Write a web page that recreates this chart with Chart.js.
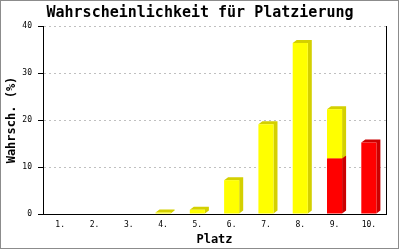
<!DOCTYPE html>
<html lang="de">
    <head>
        <meta charset="UTF-8">
        <title>Wahrscheinlichkeit für Platzierung</title>
        <script src="https://cdn.jsdelivr.net/npm/chart.js"></script>
        <style>
            html, body { margin: 0; padding: 0; background: #fff; }
            .chart-container { position: relative; width: 400px; height: 250px; }
        </style>
    </head>
    <body>
        <div class="chart-container">
            <canvas id="chart"></canvas>
        </div>
        <script>
            // data
            const places = ['1.', '2.', '3.', '4.', '5.', '6.', '7.', '8.', '9.', '10.'];
            const redValues = [0, 0, 0, 0, 0, 0, 0, 0, 11.8, 15.2];
            const yellowValues = [0, 0, 0, 0.3, 0.9, 7.2, 19.1, 36.4, 10.5, 0];
            const yTicks = [0, 10, 20, 30, 40];

            const monoFont = "'DejaVu Sans Mono', 'Liberation Mono', monospace";
            const DX = 4, DY = 3; // depth of the 3d side

            // darker side + top of each bar, drawn behind the front faces
            const depthPlugin = {
                id: 'depth',
                beforeDatasetsDraw(chart) {
                    const ctx = chart.ctx;
                    chart.data.datasets.forEach((ds, di) => {
                        const meta = chart.getDatasetMeta(di);
                        meta.data.forEach((bar, i) => {
                            if (!ds.data[i]) return;
                            const left = bar.x - bar.width / 2;
                            const right = bar.x + bar.width / 2;
                            const top = Math.min(bar.y, bar.base);
                            const bottom = Math.max(bar.y, bar.base);
                            ctx.save();
                            ctx.fillStyle = ds.sideColor;
                            ctx.beginPath();
                            ctx.moveTo(right, bottom);
                            ctx.lineTo(right + DX, bottom - DY);
                            ctx.lineTo(right + DX, top - DY);
                            ctx.lineTo(left + DX, top - DY);
                            ctx.lineTo(left, top);
                            ctx.lineTo(right, top);
                            ctx.closePath();
                            ctx.fill();
                            ctx.restore();
                        });
                    });
                }
            };

            // grey frame round the picture
            const framePlugin = {
                id: 'frame',
                afterDraw(chart) {
                    const ctx = chart.ctx;
                    ctx.save();
                    ctx.lineWidth = 1;
                    ctx.strokeStyle = '#8c8c8c';
                    ctx.strokeRect(0.5, 0.5, 398, 248);
                    ctx.restore();
                }
            };

            new Chart(document.getElementById('chart'), {
                type: 'bar',
                data: {
                    labels: places,
                    datasets: [
                        {
                            label: 'rot',
                            data: redValues,
                            backgroundColor: '#ff0000',
                            sideColor: '#cc0000',
                            barPercentage: 0.88,
                            categoryPercentage: 0.5
                        },
                        {
                            label: 'gelb',
                            data: yellowValues,
                            backgroundColor: '#ffff00',
                            sideColor: '#d4d000',
                            barPercentage: 0.88,
                            categoryPercentage: 0.5
                        }
                    ]
                },
                options: {
                    responsive: true,
                    maintainAspectRatio: false,
                    animation: false,
                    layout: { padding: { left: 1, right: 1, top: 0, bottom: 2 } },
                    plugins: {
                        legend: { display: false },
                        tooltip: { enabled: false },
                        title: {
                            display: true,
                            text: 'Wahrscheinlichkeit für Platzierung',
                            color: '#000',
                            font: { family: monoFont, size: 15, weight: 'bold' },
                            padding: { top: 4, bottom: 4 }
                        }
                    },
                    scales: {
                        x: {
                            stacked: true,
                            grid: { display: false, drawTicks: false },
                            border: { color: '#000', width: 1 },
                            afterFit(scale) { scale.height = 34; },
                            ticks: { color: '#000', font: { family: monoFont, size: 8 }, padding: 6 },
                            title: {
                                display: true,
                                text: 'Platz',
                                color: '#000',
                                font: { family: monoFont, size: 12, weight: 'bold' },
                                padding: { top: 0, bottom: 1 }
                            }
                        },
                        y: {
                            stacked: true,
                            min: 0,
                            max: 40,
                            afterBuildTicks(scale) {
                                scale.ticks = yTicks.map(v => ({ value: v }));
                            },
                            afterFit(scale) { scale.width = 42; },
                            grid: {
                                color: '#c0c0c0',
                                tickColor: '#000',
                                tickLength: 5,
                                tickBorderDash: []
                            },
                            border: { color: '#000', width: 1, dash: [2, 3] },
                            ticks: { color: '#000', font: { family: monoFont, size: 8 }, padding: 6 },
                            title: {
                                display: true,
                                text: 'Wahrsch. (%)',
                                color: '#000',
                                font: { family: monoFont, size: 12, weight: 'bold' },
                                padding: { top: 4, bottom: 0 }
                            }
                        },
                        // right edge line of the plot
                        yRight: {
                            position: 'right',
                            afterFit(scale) { scale.width = 13; },
                            grid: { display: false, drawTicks: false },
                            border: { color: '#000', width: 1 },
                            ticks: { display: false }
                        }
                    }
                },
                plugins: [depthPlugin, framePlugin]
            });
        </script>
    </body>
</html>
